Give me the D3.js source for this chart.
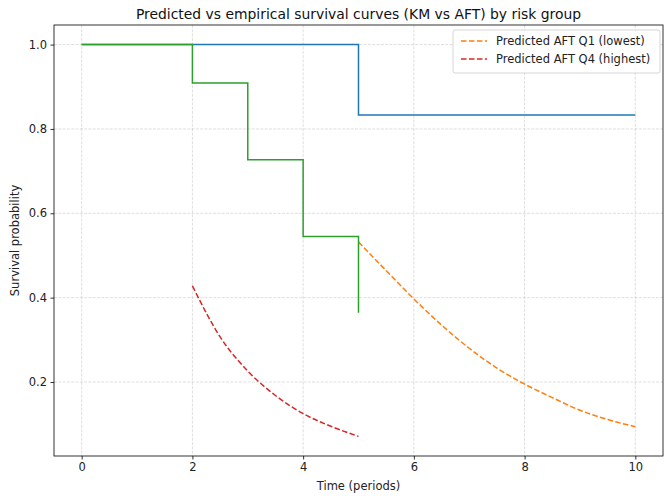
<!DOCTYPE html>
<html>
<head>
<meta charset="utf-8">
<script src="https://cdn.jsdelivr.net/npm/d3@7"></script>
<style>
  body { margin: 0; background: #fff; }
  svg text { font-family: "DejaVu Sans", sans-serif; }
</style>
</head>
<body>
<div id="chart"></div>
<script>
// Kaplan-Meier steps (time, survival)
const kmQ1 = [[0, 1.0], [5, 1.0], [5, 0.833], [10, 0.833]];
const kmQ4 = [[0, 1.0], [2, 1.0], [2, 0.909], [3, 0.909], [3, 0.727], [4, 0.727], [4, 0.545], [5, 0.545], [5, 0.364]];

// predicted AFT curves
const aftQ1Times = [5, 5.5, 6, 6.5, 7, 7.5, 8, 8.5, 9, 9.5, 10];
const aftQ1Surv = [0.532, 0.464, 0.397, 0.335, 0.280, 0.233, 0.195, 0.163, 0.133, 0.111, 0.094];
const aftQ4Times = [2, 2.5, 3, 3.5, 4, 4.5, 5];
const aftQ4Surv = [0.428, 0.307, 0.226, 0.168, 0.125, 0.095, 0.071];

const xTicks = [0, 2, 4, 6, 8, 10];
const yTicks = [0.2, 0.4, 0.6, 0.8, 1.0];

const W = 664, H = 496;
const margin = { top: 25, right: 1, bottom: 40, left: 54 };
const width = W - margin.left - margin.right;
const height = H - margin.top - margin.bottom;

const svg = d3.select("#chart").append("svg")
    .attr("width", W)
    .attr("height", H);

const g = svg.append("g")
    .attr("transform", `translate(${margin.left},${margin.top})`);

const allY = kmQ1.map(d => d[1]).concat(kmQ4.map(d => d[1]), aftQ1Surv, aftQ4Surv);
const yMin = d3.min(allY), yMax = d3.max(allY);
const yPad = (yMax - yMin) * 0.05;

const x = d3.scaleLinear().domain([-0.5, 10.5]).range([0, width]);
const y = d3.scaleLinear().domain([yMin - yPad, yMax + yPad]).range([height, 0]);

// grid
g.append("g")
    .selectAll("line")
    .data(xTicks)
    .join("line")
    .attr("x1", d => x(d)).attr("x2", d => x(d))
    .attr("y1", 0).attr("y2", height)
    .attr("stroke", "#b0b0b0").attr("stroke-opacity", 0.5)
    .attr("stroke-width", 0.8).attr("stroke-dasharray", "3,1.3");

g.append("g")
    .selectAll("line")
    .data(yTicks)
    .join("line")
    .attr("x1", 0).attr("x2", width)
    .attr("y1", d => y(d)).attr("y2", d => y(d))
    .attr("stroke", "#b0b0b0").attr("stroke-opacity", 0.5)
    .attr("stroke-width", 0.8).attr("stroke-dasharray", "3,1.3");

// curves
const line = d3.line().x(d => x(d[0])).y(d => y(d[1]));
const smooth = d3.line().x(d => x(d[0])).y(d => y(d[1])).curve(d3.curveMonotoneX);

g.append("path").datum(kmQ1)
    .attr("d", line).attr("fill", "none")
    .attr("stroke", "#1f77b4").attr("stroke-width", 1.5);

g.append("path").datum(aftQ1Times.map((t, i) => [t, aftQ1Surv[i]]))
    .attr("d", smooth).attr("fill", "none")
    .attr("stroke", "#ff7f0e").attr("stroke-width", 1.5)
    .attr("stroke-dasharray", "5.55,2.4");

g.append("path").datum(kmQ4)
    .attr("d", line).attr("fill", "none")
    .attr("stroke", "#2ca02c").attr("stroke-width", 1.5);

g.append("path").datum(aftQ4Times.map((t, i) => [t, aftQ4Surv[i]]))
    .attr("d", smooth).attr("fill", "none")
    .attr("stroke", "#d62728").attr("stroke-width", 1.5)
    .attr("stroke-dasharray", "5.55,2.4");

// axes
const xAxis = g.append("g")
    .attr("transform", `translate(0,${height})`)
    .call(d3.axisBottom(x).tickValues(xTicks).tickSize(3.5).tickPadding(3.5).tickFormat(d3.format("d")));
const yAxis = g.append("g")
    .call(d3.axisLeft(y).tickValues(yTicks).tickSize(3.5).tickPadding(3.5).tickFormat(d3.format(".1f")));

[xAxis, yAxis].forEach(a => {
  a.select(".domain").remove();
  a.selectAll("line").attr("stroke", "#000").attr("stroke-width", 0.8);
  a.selectAll("text").attr("fill", "#222")
      .style("font-size", "11.5px").style("font-family", "DejaVu Sans, sans-serif");
});

g.append("rect")
    .attr("width", width).attr("height", height)
    .attr("fill", "none").attr("stroke", "#000").attr("stroke-width", 0.8);

// labels
svg.append("text")
    .attr("x", margin.left + width / 2).attr("y", 19)
    .attr("text-anchor", "middle")
    .style("font-size", "13.9px")
    .attr("fill", "#111")
    .text("Predicted vs empirical survival curves (KM vs AFT) by risk group");

svg.append("text")
    .attr("x", margin.left + width / 2).attr("y", 490)
    .attr("text-anchor", "middle")
    .style("font-size", "11.5px")
    .attr("fill", "#222")
    .text("Time (periods)");

svg.append("text")
    .attr("transform", `translate(19,${margin.top + height / 2}) rotate(-90)`)
    .attr("text-anchor", "middle")
    .style("font-size", "11.5px")
    .attr("fill", "#222")
    .text("Survival probability");

// legend
const legendItems = [
  { label: "Predicted AFT Q1 (lowest)", color: "#ff7f0e" },
  { label: "Predicted AFT Q4 (highest)", color: "#d62728" }
];
const legend = svg.append("g").attr("transform", "translate(453,30)");
legend.append("rect")
    .attr("width", 207).attr("height", 43).attr("rx", 2)
    .attr("fill", "#fff").attr("fill-opacity", 0.8)
    .attr("stroke", "#ccc").attr("stroke-width", 0.8);
legendItems.forEach((it, i) => {
  const yy = 11 + i * 18;
  legend.append("line")
      .attr("x1", 8).attr("x2", 34).attr("y1", yy).attr("y2", yy)
      .attr("stroke", it.color).attr("stroke-width", 1.5)
      .attr("stroke-dasharray", "5.55,2.4");
  legend.append("text")
      .attr("x", 43).attr("y", yy + 4.2)
      .style("font-size", "11.5px")
      .attr("fill", "#222")
      .text(it.label);
});
</script>
</body>
</html>
